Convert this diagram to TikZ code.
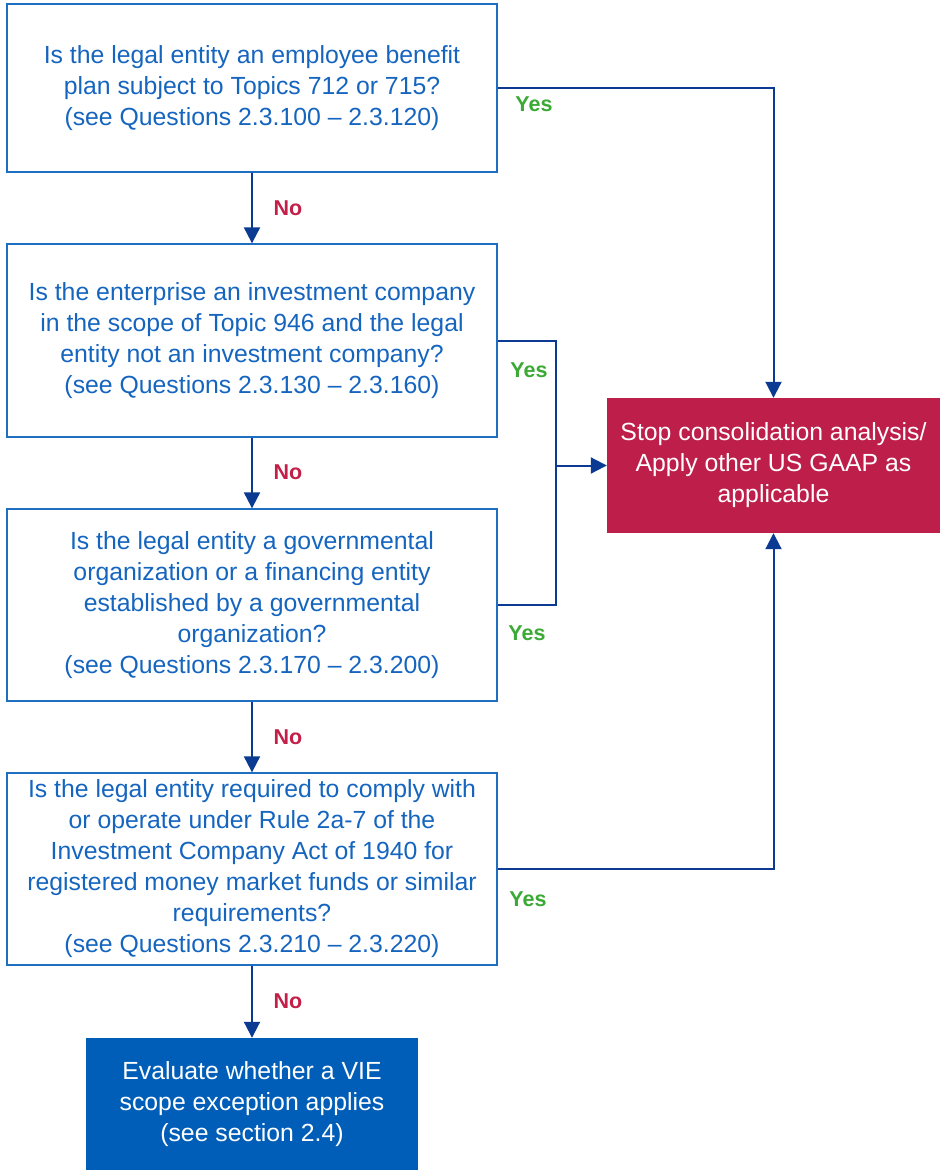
\documentclass[tikz,border=0pt]{standalone}
\usepackage{fontspec}
\setmainfont{Liberation Sans}
\usetikzlibrary{arrows.meta}
\definecolor{txtblue}{HTML}{1565BF}
\definecolor{bordblue}{HTML}{1E6EC2}
\definecolor{linkblue}{HTML}{0A3A91}
\definecolor{stopred}{HTML}{BE1F4A}
\definecolor{fillblue}{HTML}{005EB8}
\definecolor{yesgreen}{HTML}{3AAA35}
\definecolor{nored}{HTML}{C31F48}
\begin{document}
\begin{tikzpicture}[x=1pt,y=-1pt,
  qbox/.style={draw=bordblue,line width=1.3pt,rectangle,minimum width=490pt,inner sep=0pt,
    align=center,text=txtblue,font=\fontsize{24.8}{31}\selectfont},
  endbox/.style={rectangle,inner sep=0pt,align=center,text=white,font=\fontsize{24.8}{31}\selectfont},
  link/.style={draw=linkblue,line width=2pt},
  conn/.style={link,-{Triangle[width=16pt,length=16pt]}},
  yeslbl/.style={text=yesgreen,font=\fontsize{21.5}{24}\selectfont\bfseries,inner sep=0pt},
  nolbl/.style={text=nored,font=\fontsize{21.5}{24}\selectfont\bfseries,inner sep=0pt}]
\useasboundingbox (0,0) rectangle (942,1172);
\node[qbox,minimum height=168pt] (b1) at (252,88) {Is the legal entity an employee benefit\\plan subject to Topics 712 or 715?\\(see Questions 2.3.100 -- 2.3.120)};
\node[qbox,minimum height=193pt] (b2) at (252,340.5) {Is the enterprise an investment company\\in the scope of Topic 946 and the legal\\entity not an investment company?\\(see Questions 2.3.130 -- 2.3.160)};
\node[qbox,minimum height=192pt] (b3) at (252,605) {Is the legal entity a governmental\\organization or a financing entity\\established by a governmental\\organization?\\(see Questions 2.3.170 -- 2.3.200)};
\node[qbox,minimum height=192pt] (b4) at (252,869) {Is the legal entity required to comply with\\or operate under Rule 2a-7 of the\\Investment Company Act of 1940 for\\registered money market funds or similar\\requirements?\\(see Questions 2.3.210 -- 2.3.220)};
\node[endbox,fill=fillblue,minimum width=332pt,minimum height=132pt] (b5) at (252,1104) {Evaluate whether a VIE\\scope exception applies\\(see section 2.4)};
\node[endbox,fill=stopred,minimum width=333pt,minimum height=135pt] (stop) at (773.5,465.5) {Stop consolidation analysis/\\Apply other US GAAP as\\applicable};
% No connectors
\draw[conn] (b1.south) -- (b2.north);
\draw[conn] (b2.south) -- (b3.north);
\draw[conn] (b3.south) -- (b4.north);
\draw[conn] (b4.south) -- (b5.north);
% Yes connectors
\draw[conn] (b1.east) -| (stop.north);
\draw[link] (b2.east) -- ++(58,0) coordinate (j1) -- (j1 |- b3.east) -- (b3.east);
\coordinate (j2) at (j1 |- stop.west);
\draw[conn] (j2) -- (stop.west);
\draw[conn] (b4.east) -| (stop.south);
% labels
\node[nolbl] (n1) at (288,208) {No};
\node[nolbl] (n2) at (288,472) {No};
\node[nolbl] (n3) at (288,737) {No};
\node[nolbl] (n4) at (288,1001) {No};
\node[yeslbl] (y1) at (534,104) {Yes};
\node[yeslbl] (y2) at (529,370) {Yes};
\node[yeslbl] (y3) at (527,633) {Yes};
\node[yeslbl] (y4) at (528,899) {Yes};
\end{tikzpicture}
\end{document}
